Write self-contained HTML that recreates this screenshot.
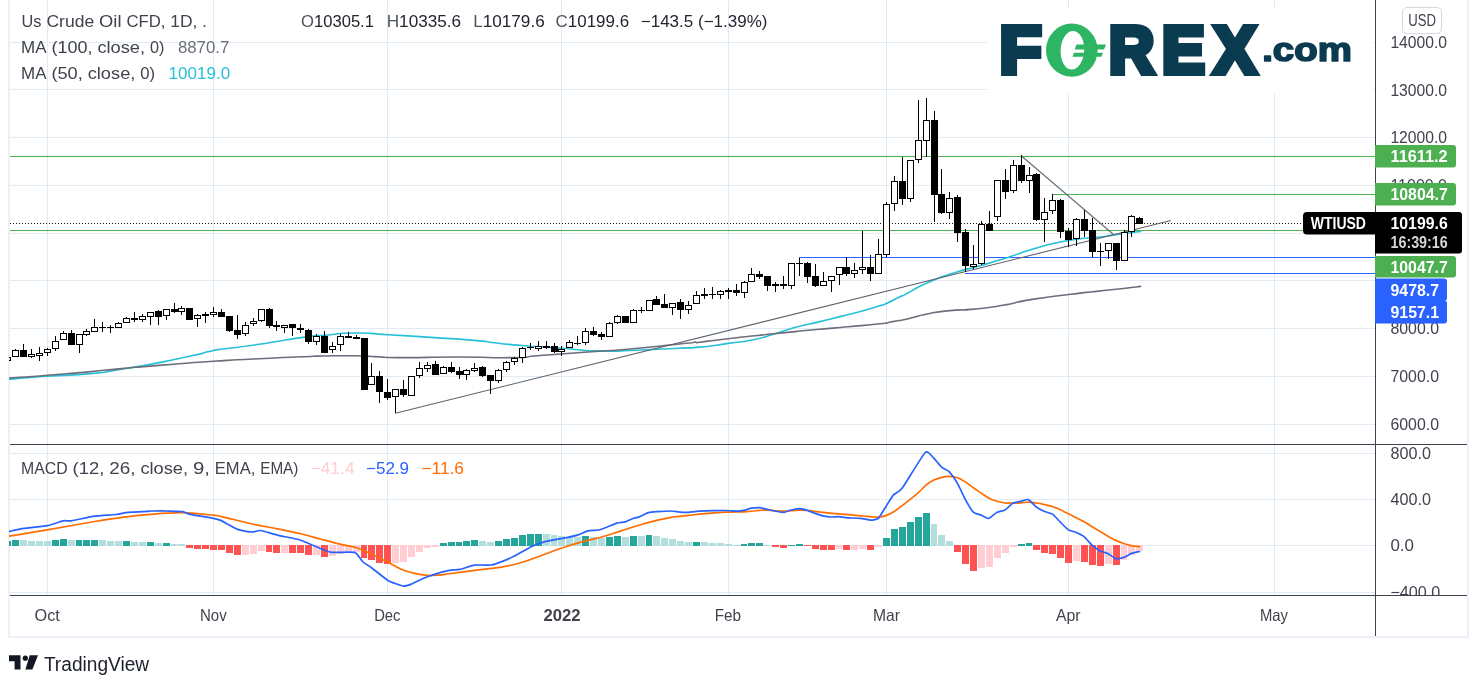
<!DOCTYPE html>
<html lang="en"><head><meta charset="utf-8"><title>Us Crude Oil CFD, 1D - TradingView</title>
<style>html,body{margin:0;padding:0;background:#fff;}body{width:1483px;height:690px;overflow:hidden;font-family:"Liberation Sans", "DejaVu Sans", sans-serif;}svg{display:block}</style>
</head><body>
<svg width="1483" height="690" viewBox="0 0 1483 690" font-family='"Liberation Sans", "DejaVu Sans", sans-serif'>
<rect width="1483" height="690" fill="#fff"/>
<rect x="8" y="0" width="2" height="637" fill="#eceff6" shape-rendering="crispEdges"/>
<g fill="#e1ebf3" shape-rendering="crispEdges">
<rect x="10" y="42" width="1365" height="1"/>
<rect x="10" y="89" width="1365" height="1"/>
<rect x="10" y="137" width="1365" height="1"/>
<rect x="10" y="185" width="1365" height="1"/>
<rect x="10" y="233" width="1365" height="1"/>
<rect x="10" y="280" width="1365" height="1"/>
<rect x="10" y="328" width="1365" height="1"/>
<rect x="10" y="376" width="1365" height="1"/>
<rect x="10" y="424" width="1365" height="1"/>
<rect x="10" y="453" width="1365" height="1"/>
<rect x="10" y="499" width="1365" height="1"/>
<rect x="10" y="545" width="1365" height="1"/>
<rect x="10" y="592" width="1365" height="1"/>
<rect x="47" y="0" width="1" height="595"/>
<rect x="213" y="0" width="1" height="595"/>
<rect x="387" y="0" width="1" height="595"/>
<rect x="561" y="0" width="1" height="595"/>
<rect x="728" y="0" width="1" height="595"/>
<rect x="886" y="0" width="1" height="595"/>
<rect x="1068" y="0" width="1" height="595"/>
<rect x="1274" y="0" width="1" height="595"/>
</g>
<clipPath id="cm"><rect x="9" y="0" width="1366" height="444"/></clipPath>
<clipPath id="cd"><rect x="9" y="445" width="1366" height="150"/></clipPath>
<g shape-rendering="crispEdges" clip-path="url(#cm)">
<rect x="10" y="156" width="1365" height="1" fill="#4caf50"/>
<rect x="1052" y="194" width="323" height="1" fill="#4caf50"/>
<rect x="10" y="230" width="1365" height="1" fill="#4caf50"/>
<rect x="799" y="257" width="576" height="1" fill="#2962ff"/>
<rect x="965" y="273" width="410" height="1" fill="#2962ff"/>
</g>
<line x1="10" y1="223.5" x2="1375" y2="223.5" stroke="#111" stroke-width="1" stroke-dasharray="1 2" shape-rendering="crispEdges"/>
<path d="M9.7 379.1 C22.3 378.1 20.4 378.0 47.5 376.2 C74.6 374.4 66.4 375.9 91.0 373.6 C115.6 371.3 97.8 373.0 121.4 369.2 C145.0 365.4 134.8 367.4 161.8 362.1 C188.8 356.8 185.0 357.3 202.3 353.4 C213.6 349.5 202.3 353.4 213.6 350.4 C232.0 347.4 227.1 348.9 257.4 344.5 C287.7 340.1 282.1 340.2 304.6 337.1 C324.9 334.0 308.3 336.6 324.9 335.2 C341.5 333.8 333.5 333.2 354.5 333.0 C375.5 332.8 362.3 333.2 387.8 334.7 C413.3 336.2 403.0 335.6 430.9 337.4 C458.8 339.2 448.9 338.2 471.4 340.1 C493.9 342.0 480.3 341.3 498.3 343.2 C516.3 345.1 504.2 344.1 525.3 345.8 C546.4 347.5 537.6 346.5 561.6 348.2 C585.6 349.9 572.0 350.2 597.4 350.9 C622.8 351.6 610.9 351.1 637.9 350.2 C664.9 349.3 657.6 349.2 678.3 348.2 C699.0 347.2 683.4 348.7 700.0 347.1 C716.6 345.5 710.9 345.8 728.2 343.4 C745.5 341.0 736.6 343.1 751.9 340.0 C767.2 336.9 759.4 338.4 774.2 334.1 C789.0 329.8 781.6 331.2 796.4 327.1 C811.2 323.0 803.9 325.5 818.7 321.9 C833.5 318.3 826.1 320.1 840.9 316.4 C855.7 312.7 850.8 314.2 863.2 310.8 C875.6 307.4 870.2 308.8 878.0 306.3 C885.8 303.8 879.2 306.6 886.5 303.4 C893.8 300.2 892.9 300.3 900.0 296.8 C907.1 293.3 900.0 297.6 907.7 293.0 C916.7 288.4 911.6 289.7 927.0 283.0 C942.4 276.3 935.9 278.7 953.9 272.9 C971.9 267.1 962.9 270.7 980.9 265.5 C998.9 260.3 989.9 263.0 1007.9 257.4 C1025.9 251.8 1014.7 254.2 1034.9 248.6 C1055.1 243.0 1046.9 244.3 1068.6 240.5 C1090.3 236.7 1084.8 239.0 1100.0 237.1 C1114.2 235.2 1100.7 236.8 1114.2 234.9 C1127.7 233.0 1131.7 232.6 1140.5 231.5" fill="none" stroke="#26c0d8" stroke-width="1.6" stroke-linejoin="round" stroke-linecap="round" clip-path="url(#cm)" />
<path d="M9.7 378.1 C22.3 377.1 20.4 377.4 47.5 375.2 C74.6 373.0 66.4 373.8 91.0 371.6 C115.6 369.4 97.8 370.8 121.4 368.6 C145.0 366.4 131.1 367.5 161.8 365.1 C192.5 362.7 183.0 363.3 213.4 361.3 C243.8 359.3 224.0 360.5 252.9 359.0 C281.8 357.5 276.0 357.8 300.0 356.8 C324.0 355.8 306.7 356.3 324.9 356.0 C343.1 355.7 337.8 355.6 354.5 355.8 C371.2 356.0 358.5 356.0 375.0 356.6 C391.5 357.2 376.3 357.5 404.0 357.6 C431.7 357.7 422.0 357.0 458.0 357.0 C494.0 357.0 484.7 358.1 512.0 357.6 C539.3 357.1 516.0 357.3 540.0 355.5 C564.0 353.7 551.3 354.7 584.0 352.3 C616.7 349.9 602.0 351.4 638.0 348.2 C674.0 345.0 671.3 344.8 692.0 342.8 C700.0 340.8 692.0 343.6 700.0 342.2 C712.1 340.8 703.5 341.5 728.2 338.7 C752.9 335.9 744.0 336.9 774.2 333.8 C804.4 330.7 794.0 331.6 818.7 329.3 C843.4 327.0 827.9 328.6 848.3 326.8 C868.7 325.0 865.2 325.5 880.0 323.8 C892.8 322.1 883.4 323.3 892.8 321.6 C902.2 319.9 896.8 321.2 908.3 318.7 C919.8 316.2 913.3 316.7 927.2 314.0 C941.1 311.3 934.2 312.2 949.9 310.6 C965.6 309.0 956.8 310.9 974.4 309.1 C992.0 307.3 983.8 308.5 1002.7 305.3 C1021.6 302.1 1009.0 303.2 1031.0 299.6 C1053.0 296.0 1040.5 297.9 1068.8 294.5 C1097.1 291.1 1092.1 292.0 1116.0 289.3 C1139.9 286.6 1132.4 287.4 1140.6 286.4" fill="none" stroke="#6c6f7b" stroke-width="1.6" stroke-linejoin="round" stroke-linecap="round" clip-path="url(#cm)" />
<line x1="395.4" y1="413.3" x2="1170.8" y2="220.5" stroke="#5f626d" stroke-width="1.1"/>
<line x1="1021.5" y1="156.1" x2="1114.4" y2="235.2" stroke="#6f727d" stroke-width="1.3"/>
<g shape-rendering="crispEdges" clip-path="url(#cm)">
<rect x="7" y="357" width="1" height="5" fill="#000"/>
<rect x="4" y="357" width="7" height="4" fill="#000"/>
<rect x="5" y="358" width="5" height="2" fill="#fff"/>
<rect x="15" y="349" width="1" height="8" fill="#000"/>
<rect x="12" y="350" width="7" height="7" fill="#000"/>
<rect x="13" y="351" width="5" height="5" fill="#fff"/>
<rect x="23" y="344" width="1" height="13" fill="#000"/>
<rect x="20" y="350" width="7" height="7" fill="#000"/>
<rect x="31" y="349" width="1" height="9" fill="#000"/>
<rect x="28" y="354" width="7" height="3" fill="#000"/>
<rect x="29" y="355" width="5" height="1" fill="#fff"/>
<rect x="39" y="347" width="1" height="14" fill="#000"/>
<rect x="36" y="353" width="7" height="3" fill="#000"/>
<rect x="37" y="354" width="5" height="1" fill="#fff"/>
<rect x="47" y="348" width="1" height="8" fill="#000"/>
<rect x="44" y="349" width="7" height="4" fill="#000"/>
<rect x="45" y="350" width="5" height="2" fill="#fff"/>
<rect x="55" y="336" width="1" height="15" fill="#000"/>
<rect x="52" y="341" width="7" height="8" fill="#000"/>
<rect x="53" y="342" width="5" height="6" fill="#fff"/>
<rect x="63" y="331" width="1" height="9" fill="#000"/>
<rect x="60" y="333" width="7" height="7" fill="#000"/>
<rect x="61" y="334" width="5" height="5" fill="#fff"/>
<rect x="71" y="330" width="1" height="15" fill="#000"/>
<rect x="68" y="333" width="7" height="12" fill="#000"/>
<rect x="79" y="334" width="1" height="19" fill="#000"/>
<rect x="76" y="334" width="7" height="11" fill="#000"/>
<rect x="77" y="335" width="5" height="9" fill="#fff"/>
<rect x="86" y="329" width="1" height="7" fill="#000"/>
<rect x="83" y="331" width="7" height="4" fill="#000"/>
<rect x="84" y="332" width="5" height="2" fill="#fff"/>
<rect x="94" y="319" width="1" height="13" fill="#000"/>
<rect x="91" y="327" width="7" height="5" fill="#000"/>
<rect x="92" y="328" width="5" height="3" fill="#fff"/>
<rect x="102" y="322" width="1" height="10" fill="#000"/>
<rect x="99" y="327" width="7" height="1" fill="#000"/>
<rect x="110" y="325" width="1" height="8" fill="#000"/>
<rect x="107" y="327" width="7" height="1" fill="#000"/>
<rect x="118" y="322" width="1" height="6" fill="#000"/>
<rect x="115" y="323" width="7" height="5" fill="#000"/>
<rect x="116" y="324" width="5" height="3" fill="#fff"/>
<rect x="126" y="317" width="1" height="6" fill="#000"/>
<rect x="123" y="318" width="7" height="5" fill="#000"/>
<rect x="124" y="319" width="5" height="3" fill="#fff"/>
<rect x="134" y="312" width="1" height="10" fill="#000"/>
<rect x="131" y="318" width="7" height="2" fill="#000"/>
<rect x="142" y="314" width="1" height="8" fill="#000"/>
<rect x="139" y="316" width="7" height="4" fill="#000"/>
<rect x="140" y="317" width="5" height="2" fill="#fff"/>
<rect x="150" y="312" width="1" height="13" fill="#000"/>
<rect x="147" y="312" width="7" height="5" fill="#000"/>
<rect x="148" y="313" width="5" height="3" fill="#fff"/>
<rect x="158" y="310" width="1" height="15" fill="#000"/>
<rect x="155" y="311" width="7" height="6" fill="#000"/>
<rect x="166" y="309" width="1" height="11" fill="#000"/>
<rect x="163" y="309" width="7" height="7" fill="#000"/>
<rect x="164" y="310" width="5" height="5" fill="#fff"/>
<rect x="174" y="303" width="1" height="10" fill="#000"/>
<rect x="171" y="309" width="7" height="3" fill="#000"/>
<rect x="181" y="306" width="1" height="9" fill="#000"/>
<rect x="178" y="308" width="7" height="4" fill="#000"/>
<rect x="179" y="309" width="5" height="2" fill="#fff"/>
<rect x="189" y="308" width="1" height="12" fill="#000"/>
<rect x="186" y="308" width="7" height="12" fill="#000"/>
<rect x="197" y="314" width="1" height="13" fill="#000"/>
<rect x="194" y="315" width="7" height="4" fill="#000"/>
<rect x="195" y="316" width="5" height="2" fill="#fff"/>
<rect x="205" y="312" width="1" height="11" fill="#000"/>
<rect x="202" y="314" width="7" height="2" fill="#000"/>
<rect x="213" y="307" width="1" height="10" fill="#000"/>
<rect x="210" y="312" width="7" height="3" fill="#000"/>
<rect x="211" y="313" width="5" height="1" fill="#fff"/>
<rect x="221" y="309" width="1" height="8" fill="#000"/>
<rect x="218" y="312" width="7" height="5" fill="#000"/>
<rect x="229" y="316" width="1" height="16" fill="#000"/>
<rect x="226" y="316" width="7" height="15" fill="#000"/>
<rect x="237" y="315" width="1" height="24" fill="#000"/>
<rect x="234" y="330" width="7" height="5" fill="#000"/>
<rect x="245" y="322" width="1" height="14" fill="#000"/>
<rect x="242" y="325" width="7" height="9" fill="#000"/>
<rect x="243" y="326" width="5" height="7" fill="#fff"/>
<rect x="253" y="318" width="1" height="8" fill="#000"/>
<rect x="250" y="321" width="7" height="3" fill="#000"/>
<rect x="251" y="322" width="5" height="1" fill="#fff"/>
<rect x="261" y="309" width="1" height="13" fill="#000"/>
<rect x="258" y="309" width="7" height="12" fill="#000"/>
<rect x="259" y="310" width="5" height="10" fill="#fff"/>
<rect x="269" y="308" width="1" height="20" fill="#000"/>
<rect x="266" y="309" width="7" height="17" fill="#000"/>
<rect x="276" y="321" width="1" height="10" fill="#000"/>
<rect x="273" y="325" width="7" height="2" fill="#000"/>
<rect x="284" y="325" width="1" height="8" fill="#000"/>
<rect x="281" y="325" width="7" height="3" fill="#000"/>
<rect x="282" y="326" width="5" height="1" fill="#fff"/>
<rect x="292" y="324" width="1" height="12" fill="#000"/>
<rect x="289" y="324" width="7" height="4" fill="#000"/>
<rect x="300" y="324" width="1" height="9" fill="#000"/>
<rect x="297" y="328" width="7" height="2" fill="#000"/>
<rect x="308" y="329" width="1" height="15" fill="#000"/>
<rect x="305" y="330" width="7" height="12" fill="#000"/>
<rect x="316" y="334" width="1" height="11" fill="#000"/>
<rect x="313" y="336" width="7" height="6" fill="#000"/>
<rect x="314" y="337" width="5" height="4" fill="#fff"/>
<rect x="324" y="331" width="1" height="22" fill="#000"/>
<rect x="321" y="336" width="7" height="17" fill="#000"/>
<rect x="332" y="342" width="1" height="11" fill="#000"/>
<rect x="329" y="346" width="7" height="4" fill="#000"/>
<rect x="330" y="347" width="5" height="2" fill="#fff"/>
<rect x="340" y="334" width="1" height="17" fill="#000"/>
<rect x="337" y="336" width="7" height="9" fill="#000"/>
<rect x="338" y="337" width="5" height="7" fill="#fff"/>
<rect x="348" y="332" width="1" height="6" fill="#000"/>
<rect x="345" y="336" width="7" height="2" fill="#000"/>
<rect x="356" y="335" width="1" height="4" fill="#000"/>
<rect x="353" y="337" width="7" height="2" fill="#000"/>
<rect x="364" y="338" width="1" height="52" fill="#000"/>
<rect x="361" y="338" width="7" height="52" fill="#000"/>
<rect x="371" y="363" width="1" height="22" fill="#000"/>
<rect x="368" y="376" width="7" height="9" fill="#000"/>
<rect x="369" y="377" width="5" height="7" fill="#fff"/>
<rect x="379" y="371" width="1" height="32" fill="#000"/>
<rect x="376" y="376" width="7" height="16" fill="#000"/>
<rect x="387" y="379" width="1" height="21" fill="#000"/>
<rect x="384" y="392" width="7" height="6" fill="#000"/>
<rect x="395" y="389" width="1" height="24" fill="#000"/>
<rect x="392" y="389" width="7" height="8" fill="#000"/>
<rect x="393" y="390" width="5" height="6" fill="#fff"/>
<rect x="403" y="380" width="1" height="17" fill="#000"/>
<rect x="400" y="389" width="7" height="6" fill="#000"/>
<rect x="411" y="376" width="1" height="20" fill="#000"/>
<rect x="408" y="376" width="7" height="20" fill="#000"/>
<rect x="409" y="377" width="5" height="18" fill="#fff"/>
<rect x="419" y="362" width="1" height="16" fill="#000"/>
<rect x="416" y="368" width="7" height="8" fill="#000"/>
<rect x="417" y="369" width="5" height="6" fill="#fff"/>
<rect x="427" y="362" width="1" height="10" fill="#000"/>
<rect x="424" y="365" width="7" height="4" fill="#000"/>
<rect x="425" y="366" width="5" height="2" fill="#fff"/>
<rect x="435" y="361" width="1" height="14" fill="#000"/>
<rect x="432" y="364" width="7" height="11" fill="#000"/>
<rect x="443" y="366" width="1" height="8" fill="#000"/>
<rect x="440" y="367" width="7" height="7" fill="#000"/>
<rect x="441" y="368" width="5" height="5" fill="#fff"/>
<rect x="451" y="362" width="1" height="11" fill="#000"/>
<rect x="448" y="367" width="7" height="5" fill="#000"/>
<rect x="459" y="367" width="1" height="12" fill="#000"/>
<rect x="456" y="371" width="7" height="4" fill="#000"/>
<rect x="466" y="369" width="1" height="11" fill="#000"/>
<rect x="463" y="370" width="7" height="5" fill="#000"/>
<rect x="464" y="371" width="5" height="3" fill="#fff"/>
<rect x="474" y="363" width="1" height="9" fill="#000"/>
<rect x="471" y="368" width="7" height="3" fill="#000"/>
<rect x="472" y="369" width="5" height="1" fill="#fff"/>
<rect x="482" y="366" width="1" height="11" fill="#000"/>
<rect x="479" y="367" width="7" height="9" fill="#000"/>
<rect x="490" y="375" width="1" height="19" fill="#000"/>
<rect x="487" y="375" width="7" height="6" fill="#000"/>
<rect x="498" y="369" width="1" height="14" fill="#000"/>
<rect x="495" y="370" width="7" height="11" fill="#000"/>
<rect x="496" y="371" width="5" height="9" fill="#fff"/>
<rect x="506" y="361" width="1" height="11" fill="#000"/>
<rect x="503" y="362" width="7" height="8" fill="#000"/>
<rect x="504" y="363" width="5" height="6" fill="#fff"/>
<rect x="514" y="357" width="1" height="8" fill="#000"/>
<rect x="511" y="358" width="7" height="4" fill="#000"/>
<rect x="512" y="359" width="5" height="2" fill="#fff"/>
<rect x="522" y="347" width="1" height="16" fill="#000"/>
<rect x="519" y="348" width="7" height="10" fill="#000"/>
<rect x="520" y="349" width="5" height="8" fill="#fff"/>
<rect x="530" y="343" width="1" height="7" fill="#000"/>
<rect x="527" y="347" width="7" height="1" fill="#000"/>
<rect x="538" y="341" width="1" height="10" fill="#000"/>
<rect x="535" y="346" width="7" height="3" fill="#000"/>
<rect x="536" y="347" width="5" height="1" fill="#fff"/>
<rect x="546" y="341" width="1" height="8" fill="#000"/>
<rect x="543" y="346" width="7" height="2" fill="#000"/>
<rect x="554" y="343" width="1" height="10" fill="#000"/>
<rect x="551" y="346" width="7" height="6" fill="#000"/>
<rect x="561" y="346" width="1" height="10" fill="#000"/>
<rect x="558" y="349" width="7" height="3" fill="#000"/>
<rect x="559" y="350" width="5" height="1" fill="#fff"/>
<rect x="569" y="340" width="1" height="8" fill="#000"/>
<rect x="566" y="342" width="7" height="6" fill="#000"/>
<rect x="567" y="343" width="5" height="4" fill="#fff"/>
<rect x="577" y="336" width="1" height="9" fill="#000"/>
<rect x="574" y="343" width="7" height="1" fill="#000"/>
<rect x="585" y="328" width="1" height="17" fill="#000"/>
<rect x="582" y="331" width="7" height="12" fill="#000"/>
<rect x="583" y="332" width="5" height="10" fill="#fff"/>
<rect x="593" y="327" width="1" height="9" fill="#000"/>
<rect x="590" y="331" width="7" height="4" fill="#000"/>
<rect x="601" y="332" width="1" height="8" fill="#000"/>
<rect x="598" y="334" width="7" height="3" fill="#000"/>
<rect x="609" y="322" width="1" height="15" fill="#000"/>
<rect x="606" y="323" width="7" height="14" fill="#000"/>
<rect x="607" y="324" width="5" height="12" fill="#fff"/>
<rect x="617" y="315" width="1" height="9" fill="#000"/>
<rect x="614" y="316" width="7" height="7" fill="#000"/>
<rect x="615" y="317" width="5" height="5" fill="#fff"/>
<rect x="625" y="316" width="1" height="7" fill="#000"/>
<rect x="622" y="316" width="7" height="7" fill="#000"/>
<rect x="633" y="309" width="1" height="14" fill="#000"/>
<rect x="630" y="310" width="7" height="13" fill="#000"/>
<rect x="631" y="311" width="5" height="11" fill="#fff"/>
<rect x="641" y="307" width="1" height="6" fill="#000"/>
<rect x="638" y="310" width="7" height="1" fill="#000"/>
<rect x="649" y="300" width="1" height="11" fill="#000"/>
<rect x="646" y="300" width="7" height="11" fill="#000"/>
<rect x="647" y="301" width="5" height="9" fill="#fff"/>
<rect x="656" y="296" width="1" height="9" fill="#000"/>
<rect x="653" y="299" width="7" height="6" fill="#000"/>
<rect x="664" y="294" width="1" height="14" fill="#000"/>
<rect x="661" y="304" width="7" height="4" fill="#000"/>
<rect x="672" y="303" width="1" height="12" fill="#000"/>
<rect x="669" y="303" width="7" height="5" fill="#000"/>
<rect x="670" y="304" width="5" height="3" fill="#fff"/>
<rect x="680" y="299" width="1" height="20" fill="#000"/>
<rect x="677" y="302" width="7" height="8" fill="#000"/>
<rect x="688" y="301" width="1" height="13" fill="#000"/>
<rect x="685" y="305" width="7" height="5" fill="#000"/>
<rect x="686" y="306" width="5" height="3" fill="#fff"/>
<rect x="696" y="291" width="1" height="13" fill="#000"/>
<rect x="693" y="295" width="7" height="9" fill="#000"/>
<rect x="694" y="296" width="5" height="7" fill="#fff"/>
<rect x="704" y="288" width="1" height="11" fill="#000"/>
<rect x="701" y="294" width="7" height="2" fill="#000"/>
<rect x="712" y="287" width="1" height="12" fill="#000"/>
<rect x="709" y="294" width="7" height="1" fill="#000"/>
<rect x="720" y="290" width="1" height="9" fill="#000"/>
<rect x="717" y="291" width="7" height="4" fill="#000"/>
<rect x="718" y="292" width="5" height="2" fill="#fff"/>
<rect x="728" y="288" width="1" height="11" fill="#000"/>
<rect x="725" y="290" width="7" height="2" fill="#000"/>
<rect x="736" y="284" width="1" height="12" fill="#000"/>
<rect x="733" y="290" width="7" height="3" fill="#000"/>
<rect x="744" y="281" width="1" height="17" fill="#000"/>
<rect x="741" y="282" width="7" height="11" fill="#000"/>
<rect x="742" y="283" width="5" height="9" fill="#fff"/>
<rect x="751" y="268" width="1" height="14" fill="#000"/>
<rect x="748" y="274" width="7" height="8" fill="#000"/>
<rect x="749" y="275" width="5" height="6" fill="#fff"/>
<rect x="759" y="271" width="1" height="8" fill="#000"/>
<rect x="756" y="274" width="7" height="3" fill="#000"/>
<rect x="767" y="276" width="1" height="15" fill="#000"/>
<rect x="764" y="276" width="7" height="10" fill="#000"/>
<rect x="775" y="282" width="1" height="10" fill="#000"/>
<rect x="772" y="284" width="7" height="2" fill="#000"/>
<rect x="783" y="276" width="1" height="13" fill="#000"/>
<rect x="780" y="284" width="7" height="2" fill="#000"/>
<rect x="791" y="263" width="1" height="26" fill="#000"/>
<rect x="788" y="263" width="7" height="23" fill="#000"/>
<rect x="789" y="264" width="5" height="21" fill="#fff"/>
<rect x="799" y="258" width="1" height="18" fill="#000"/>
<rect x="796" y="263" width="7" height="1" fill="#000"/>
<rect x="807" y="262" width="1" height="21" fill="#000"/>
<rect x="804" y="263" width="7" height="14" fill="#000"/>
<rect x="815" y="264" width="1" height="23" fill="#000"/>
<rect x="812" y="276" width="7" height="10" fill="#000"/>
<rect x="823" y="272" width="1" height="14" fill="#000"/>
<rect x="820" y="281" width="7" height="5" fill="#000"/>
<rect x="821" y="282" width="5" height="3" fill="#fff"/>
<rect x="831" y="276" width="1" height="16" fill="#000"/>
<rect x="828" y="276" width="7" height="5" fill="#000"/>
<rect x="829" y="277" width="5" height="3" fill="#fff"/>
<rect x="839" y="267" width="1" height="18" fill="#000"/>
<rect x="836" y="267" width="7" height="8" fill="#000"/>
<rect x="837" y="268" width="5" height="6" fill="#fff"/>
<rect x="846" y="257" width="1" height="19" fill="#000"/>
<rect x="843" y="267" width="7" height="7" fill="#000"/>
<rect x="854" y="263" width="1" height="15" fill="#000"/>
<rect x="851" y="270" width="7" height="4" fill="#000"/>
<rect x="852" y="271" width="5" height="2" fill="#fff"/>
<rect x="862" y="231" width="1" height="43" fill="#000"/>
<rect x="859" y="267" width="7" height="3" fill="#000"/>
<rect x="860" y="268" width="5" height="1" fill="#fff"/>
<rect x="870" y="255" width="1" height="26" fill="#000"/>
<rect x="867" y="267" width="7" height="7" fill="#000"/>
<rect x="878" y="239" width="1" height="35" fill="#000"/>
<rect x="875" y="254" width="7" height="20" fill="#000"/>
<rect x="876" y="255" width="5" height="18" fill="#fff"/>
<rect x="886" y="202" width="1" height="55" fill="#000"/>
<rect x="883" y="204" width="7" height="51" fill="#000"/>
<rect x="884" y="205" width="5" height="49" fill="#fff"/>
<rect x="894" y="176" width="1" height="35" fill="#000"/>
<rect x="891" y="181" width="7" height="23" fill="#000"/>
<rect x="892" y="182" width="5" height="21" fill="#fff"/>
<rect x="902" y="157" width="1" height="48" fill="#000"/>
<rect x="899" y="181" width="7" height="18" fill="#000"/>
<rect x="910" y="160" width="1" height="42" fill="#000"/>
<rect x="907" y="160" width="7" height="39" fill="#000"/>
<rect x="908" y="161" width="5" height="37" fill="#fff"/>
<rect x="918" y="100" width="1" height="63" fill="#000"/>
<rect x="915" y="140" width="7" height="20" fill="#000"/>
<rect x="916" y="141" width="5" height="18" fill="#fff"/>
<rect x="926" y="98" width="1" height="59" fill="#000"/>
<rect x="923" y="120" width="7" height="21" fill="#000"/>
<rect x="924" y="121" width="5" height="19" fill="#fff"/>
<rect x="934" y="111" width="1" height="111" fill="#000"/>
<rect x="931" y="120" width="7" height="75" fill="#000"/>
<rect x="941" y="169" width="1" height="45" fill="#000"/>
<rect x="938" y="194" width="7" height="19" fill="#000"/>
<rect x="949" y="192" width="1" height="27" fill="#000"/>
<rect x="946" y="198" width="7" height="15" fill="#000"/>
<rect x="947" y="199" width="5" height="13" fill="#fff"/>
<rect x="957" y="195" width="1" height="47" fill="#000"/>
<rect x="954" y="197" width="7" height="36" fill="#000"/>
<rect x="965" y="229" width="1" height="43" fill="#000"/>
<rect x="962" y="232" width="7" height="34" fill="#000"/>
<rect x="973" y="245" width="1" height="24" fill="#000"/>
<rect x="970" y="264" width="7" height="3" fill="#000"/>
<rect x="971" y="265" width="5" height="1" fill="#fff"/>
<rect x="981" y="221" width="1" height="44" fill="#000"/>
<rect x="978" y="224" width="7" height="40" fill="#000"/>
<rect x="979" y="225" width="5" height="38" fill="#fff"/>
<rect x="989" y="211" width="1" height="20" fill="#000"/>
<rect x="986" y="224" width="7" height="7" fill="#000"/>
<rect x="997" y="180" width="1" height="41" fill="#000"/>
<rect x="994" y="180" width="7" height="37" fill="#000"/>
<rect x="995" y="181" width="5" height="35" fill="#fff"/>
<rect x="1005" y="169" width="1" height="30" fill="#000"/>
<rect x="1002" y="180" width="7" height="12" fill="#000"/>
<rect x="1013" y="160" width="1" height="33" fill="#000"/>
<rect x="1010" y="165" width="7" height="26" fill="#000"/>
<rect x="1011" y="166" width="5" height="24" fill="#fff"/>
<rect x="1021" y="155" width="1" height="28" fill="#000"/>
<rect x="1018" y="165" width="7" height="16" fill="#000"/>
<rect x="1029" y="167" width="1" height="26" fill="#000"/>
<rect x="1026" y="175" width="7" height="6" fill="#000"/>
<rect x="1027" y="176" width="5" height="4" fill="#fff"/>
<rect x="1036" y="173" width="1" height="48" fill="#000"/>
<rect x="1033" y="174" width="7" height="46" fill="#000"/>
<rect x="1044" y="198" width="1" height="44" fill="#000"/>
<rect x="1041" y="212" width="7" height="8" fill="#000"/>
<rect x="1042" y="213" width="5" height="6" fill="#fff"/>
<rect x="1052" y="194" width="1" height="20" fill="#000"/>
<rect x="1049" y="200" width="7" height="11" fill="#000"/>
<rect x="1050" y="201" width="5" height="9" fill="#fff"/>
<rect x="1060" y="199" width="1" height="39" fill="#000"/>
<rect x="1057" y="200" width="7" height="32" fill="#000"/>
<rect x="1068" y="228" width="1" height="19" fill="#000"/>
<rect x="1065" y="231" width="7" height="9" fill="#000"/>
<rect x="1076" y="218" width="1" height="28" fill="#000"/>
<rect x="1073" y="219" width="7" height="20" fill="#000"/>
<rect x="1074" y="220" width="5" height="18" fill="#fff"/>
<rect x="1084" y="210" width="1" height="27" fill="#000"/>
<rect x="1081" y="219" width="7" height="12" fill="#000"/>
<rect x="1092" y="218" width="1" height="39" fill="#000"/>
<rect x="1089" y="230" width="7" height="22" fill="#000"/>
<rect x="1100" y="243" width="1" height="23" fill="#000"/>
<rect x="1097" y="251" width="7" height="1" fill="#000"/>
<rect x="1108" y="243" width="1" height="16" fill="#000"/>
<rect x="1105" y="243" width="7" height="8" fill="#000"/>
<rect x="1106" y="244" width="5" height="6" fill="#fff"/>
<rect x="1116" y="243" width="1" height="27" fill="#000"/>
<rect x="1113" y="243" width="7" height="18" fill="#000"/>
<rect x="1124" y="230" width="1" height="31" fill="#000"/>
<rect x="1121" y="232" width="7" height="29" fill="#000"/>
<rect x="1122" y="233" width="5" height="27" fill="#fff"/>
<rect x="1131" y="215" width="1" height="22" fill="#000"/>
<rect x="1128" y="216" width="7" height="16" fill="#000"/>
<rect x="1129" y="217" width="5" height="14" fill="#fff"/>
<rect x="1139" y="217" width="1" height="7" fill="#000"/>
<rect x="1136" y="218" width="7" height="6" fill="#000"/>
</g>
<g clip-path="url(#cd)">
<rect x="4" y="541" width="7" height="5" fill="#26a69a" shape-rendering="crispEdges"/>
<rect x="12" y="540" width="7" height="6" fill="#26a69a" shape-rendering="crispEdges"/>
<rect x="20" y="540" width="7" height="6" fill="#b2dfdb" shape-rendering="crispEdges"/>
<rect x="28" y="541" width="7" height="5" fill="#b2dfdb" shape-rendering="crispEdges"/>
<rect x="36" y="541" width="7" height="5" fill="#b2dfdb" shape-rendering="crispEdges"/>
<rect x="44" y="541" width="7" height="5" fill="#b2dfdb" shape-rendering="crispEdges"/>
<rect x="52" y="540" width="7" height="6" fill="#26a69a" shape-rendering="crispEdges"/>
<rect x="60" y="539" width="7" height="7" fill="#26a69a" shape-rendering="crispEdges"/>
<rect x="68" y="540" width="7" height="6" fill="#b2dfdb" shape-rendering="crispEdges"/>
<rect x="76" y="540" width="6" height="6" fill="#26a69a" shape-rendering="crispEdges"/>
<rect x="83" y="540" width="7" height="6" fill="#26a69a" shape-rendering="crispEdges"/>
<rect x="91" y="540" width="7" height="6" fill="#26a69a" shape-rendering="crispEdges"/>
<rect x="99" y="540" width="7" height="6" fill="#b2dfdb" shape-rendering="crispEdges"/>
<rect x="107" y="541" width="7" height="5" fill="#b2dfdb" shape-rendering="crispEdges"/>
<rect x="115" y="541" width="7" height="5" fill="#b2dfdb" shape-rendering="crispEdges"/>
<rect x="123" y="541" width="7" height="5" fill="#26a69a" shape-rendering="crispEdges"/>
<rect x="131" y="542" width="7" height="4" fill="#b2dfdb" shape-rendering="crispEdges"/>
<rect x="139" y="542" width="7" height="4" fill="#b2dfdb" shape-rendering="crispEdges"/>
<rect x="147" y="542" width="7" height="4" fill="#26a69a" shape-rendering="crispEdges"/>
<rect x="155" y="543" width="7" height="3" fill="#b2dfdb" shape-rendering="crispEdges"/>
<rect x="163" y="543" width="7" height="3" fill="#26a69a" shape-rendering="crispEdges"/>
<rect x="171" y="544" width="6" height="2" fill="#b2dfdb" shape-rendering="crispEdges"/>
<rect x="178" y="544" width="7" height="2" fill="#b2dfdb" shape-rendering="crispEdges"/>
<rect x="186" y="545" width="7" height="3" fill="#ff5252" shape-rendering="crispEdges"/>
<rect x="194" y="545" width="7" height="4" fill="#ff5252" shape-rendering="crispEdges"/>
<rect x="202" y="545" width="7" height="4" fill="#ff5252" shape-rendering="crispEdges"/>
<rect x="210" y="545" width="7" height="5" fill="#ff5252" shape-rendering="crispEdges"/>
<rect x="218" y="545" width="7" height="5" fill="#ff5252" shape-rendering="crispEdges"/>
<rect x="226" y="545" width="7" height="8" fill="#ff5252" shape-rendering="crispEdges"/>
<rect x="234" y="545" width="7" height="10" fill="#ff5252" shape-rendering="crispEdges"/>
<rect x="242" y="545" width="7" height="10" fill="#ffcdd2" shape-rendering="crispEdges"/>
<rect x="250" y="545" width="7" height="9" fill="#ffcdd2" shape-rendering="crispEdges"/>
<rect x="258" y="545" width="7" height="6" fill="#ffcdd2" shape-rendering="crispEdges"/>
<rect x="266" y="545" width="6" height="7" fill="#ff5252" shape-rendering="crispEdges"/>
<rect x="273" y="545" width="7" height="8" fill="#ff5252" shape-rendering="crispEdges"/>
<rect x="281" y="545" width="7" height="8" fill="#ffcdd2" shape-rendering="crispEdges"/>
<rect x="289" y="545" width="7" height="8" fill="#ff5252" shape-rendering="crispEdges"/>
<rect x="297" y="545" width="7" height="8" fill="#ff5252" shape-rendering="crispEdges"/>
<rect x="305" y="545" width="7" height="10" fill="#ff5252" shape-rendering="crispEdges"/>
<rect x="313" y="545" width="7" height="10" fill="#ffcdd2" shape-rendering="crispEdges"/>
<rect x="321" y="545" width="7" height="12" fill="#ff5252" shape-rendering="crispEdges"/>
<rect x="329" y="545" width="7" height="11" fill="#ffcdd2" shape-rendering="crispEdges"/>
<rect x="337" y="545" width="7" height="9" fill="#ffcdd2" shape-rendering="crispEdges"/>
<rect x="345" y="545" width="7" height="8" fill="#ffcdd2" shape-rendering="crispEdges"/>
<rect x="353" y="545" width="7" height="7" fill="#ffcdd2" shape-rendering="crispEdges"/>
<rect x="361" y="545" width="6" height="13" fill="#ff5252" shape-rendering="crispEdges"/>
<rect x="368" y="545" width="7" height="15" fill="#ff5252" shape-rendering="crispEdges"/>
<rect x="376" y="545" width="7" height="18" fill="#ff5252" shape-rendering="crispEdges"/>
<rect x="384" y="545" width="7" height="19" fill="#ff5252" shape-rendering="crispEdges"/>
<rect x="392" y="545" width="7" height="18" fill="#ffcdd2" shape-rendering="crispEdges"/>
<rect x="400" y="545" width="7" height="17" fill="#ffcdd2" shape-rendering="crispEdges"/>
<rect x="408" y="545" width="7" height="12" fill="#ffcdd2" shape-rendering="crispEdges"/>
<rect x="416" y="545" width="7" height="7" fill="#ffcdd2" shape-rendering="crispEdges"/>
<rect x="424" y="545" width="7" height="3" fill="#ffcdd2" shape-rendering="crispEdges"/>
<rect x="432" y="545" width="7" height="2" fill="#ffcdd2" shape-rendering="crispEdges"/>
<rect x="440" y="543" width="7" height="3" fill="#26a69a" shape-rendering="crispEdges"/>
<rect x="448" y="542" width="7" height="4" fill="#26a69a" shape-rendering="crispEdges"/>
<rect x="456" y="542" width="6" height="4" fill="#26a69a" shape-rendering="crispEdges"/>
<rect x="463" y="541" width="7" height="5" fill="#26a69a" shape-rendering="crispEdges"/>
<rect x="471" y="540" width="7" height="6" fill="#26a69a" shape-rendering="crispEdges"/>
<rect x="479" y="541" width="7" height="5" fill="#b2dfdb" shape-rendering="crispEdges"/>
<rect x="487" y="542" width="7" height="4" fill="#b2dfdb" shape-rendering="crispEdges"/>
<rect x="495" y="541" width="7" height="5" fill="#26a69a" shape-rendering="crispEdges"/>
<rect x="503" y="539" width="7" height="7" fill="#26a69a" shape-rendering="crispEdges"/>
<rect x="511" y="538" width="7" height="8" fill="#26a69a" shape-rendering="crispEdges"/>
<rect x="519" y="535" width="7" height="11" fill="#26a69a" shape-rendering="crispEdges"/>
<rect x="527" y="534" width="7" height="12" fill="#26a69a" shape-rendering="crispEdges"/>
<rect x="535" y="534" width="7" height="12" fill="#26a69a" shape-rendering="crispEdges"/>
<rect x="543" y="534" width="7" height="12" fill="#b2dfdb" shape-rendering="crispEdges"/>
<rect x="551" y="535" width="6" height="11" fill="#b2dfdb" shape-rendering="crispEdges"/>
<rect x="558" y="536" width="7" height="10" fill="#b2dfdb" shape-rendering="crispEdges"/>
<rect x="566" y="537" width="7" height="9" fill="#b2dfdb" shape-rendering="crispEdges"/>
<rect x="574" y="537" width="7" height="9" fill="#b2dfdb" shape-rendering="crispEdges"/>
<rect x="582" y="536" width="7" height="10" fill="#26a69a" shape-rendering="crispEdges"/>
<rect x="590" y="537" width="7" height="9" fill="#b2dfdb" shape-rendering="crispEdges"/>
<rect x="598" y="538" width="7" height="8" fill="#b2dfdb" shape-rendering="crispEdges"/>
<rect x="606" y="537" width="7" height="9" fill="#26a69a" shape-rendering="crispEdges"/>
<rect x="614" y="536" width="7" height="10" fill="#26a69a" shape-rendering="crispEdges"/>
<rect x="622" y="537" width="7" height="9" fill="#b2dfdb" shape-rendering="crispEdges"/>
<rect x="630" y="536" width="7" height="10" fill="#26a69a" shape-rendering="crispEdges"/>
<rect x="638" y="536" width="7" height="10" fill="#b2dfdb" shape-rendering="crispEdges"/>
<rect x="646" y="535" width="6" height="11" fill="#26a69a" shape-rendering="crispEdges"/>
<rect x="653" y="536" width="7" height="10" fill="#b2dfdb" shape-rendering="crispEdges"/>
<rect x="661" y="538" width="7" height="8" fill="#b2dfdb" shape-rendering="crispEdges"/>
<rect x="669" y="539" width="7" height="7" fill="#b2dfdb" shape-rendering="crispEdges"/>
<rect x="677" y="541" width="7" height="5" fill="#b2dfdb" shape-rendering="crispEdges"/>
<rect x="685" y="542" width="7" height="4" fill="#b2dfdb" shape-rendering="crispEdges"/>
<rect x="693" y="542" width="7" height="4" fill="#26a69a" shape-rendering="crispEdges"/>
<rect x="701" y="542" width="7" height="4" fill="#b2dfdb" shape-rendering="crispEdges"/>
<rect x="709" y="543" width="7" height="3" fill="#b2dfdb" shape-rendering="crispEdges"/>
<rect x="717" y="543" width="7" height="3" fill="#b2dfdb" shape-rendering="crispEdges"/>
<rect x="725" y="544" width="7" height="2" fill="#b2dfdb" shape-rendering="crispEdges"/>
<rect x="733" y="545" width="7" height="1" fill="#b2dfdb" shape-rendering="crispEdges"/>
<rect x="741" y="544" width="6" height="2" fill="#26a69a" shape-rendering="crispEdges"/>
<rect x="748" y="543" width="7" height="3" fill="#26a69a" shape-rendering="crispEdges"/>
<rect x="756" y="543" width="7" height="3" fill="#26a69a" shape-rendering="crispEdges"/>
<rect x="764" y="545" width="7" height="1" fill="#b2dfdb" shape-rendering="crispEdges"/>
<rect x="772" y="545" width="7" height="2" fill="#ff5252" shape-rendering="crispEdges"/>
<rect x="780" y="545" width="7" height="3" fill="#ff5252" shape-rendering="crispEdges"/>
<rect x="788" y="545" width="7" height="1" fill="#26a69a" shape-rendering="crispEdges"/>
<rect x="796" y="544" width="7" height="2" fill="#26a69a" shape-rendering="crispEdges"/>
<rect x="804" y="545" width="7" height="1" fill="#ff5252" shape-rendering="crispEdges"/>
<rect x="812" y="545" width="7" height="4" fill="#ff5252" shape-rendering="crispEdges"/>
<rect x="820" y="545" width="7" height="5" fill="#ff5252" shape-rendering="crispEdges"/>
<rect x="828" y="545" width="7" height="5" fill="#ff5252" shape-rendering="crispEdges"/>
<rect x="836" y="545" width="6" height="4" fill="#ffcdd2" shape-rendering="crispEdges"/>
<rect x="843" y="545" width="7" height="5" fill="#ff5252" shape-rendering="crispEdges"/>
<rect x="851" y="545" width="7" height="5" fill="#ffcdd2" shape-rendering="crispEdges"/>
<rect x="859" y="545" width="7" height="4" fill="#ffcdd2" shape-rendering="crispEdges"/>
<rect x="867" y="545" width="7" height="5" fill="#ff5252" shape-rendering="crispEdges"/>
<rect x="875" y="545" width="7" height="2" fill="#ffcdd2" shape-rendering="crispEdges"/>
<rect x="883" y="538" width="7" height="8" fill="#26a69a" shape-rendering="crispEdges"/>
<rect x="891" y="529" width="7" height="17" fill="#26a69a" shape-rendering="crispEdges"/>
<rect x="899" y="527" width="7" height="19" fill="#26a69a" shape-rendering="crispEdges"/>
<rect x="907" y="522" width="7" height="24" fill="#26a69a" shape-rendering="crispEdges"/>
<rect x="915" y="517" width="7" height="29" fill="#26a69a" shape-rendering="crispEdges"/>
<rect x="923" y="513" width="7" height="33" fill="#26a69a" shape-rendering="crispEdges"/>
<rect x="931" y="524" width="6" height="22" fill="#b2dfdb" shape-rendering="crispEdges"/>
<rect x="938" y="535" width="7" height="11" fill="#b2dfdb" shape-rendering="crispEdges"/>
<rect x="946" y="541" width="7" height="5" fill="#b2dfdb" shape-rendering="crispEdges"/>
<rect x="954" y="545" width="7" height="7" fill="#ff5252" shape-rendering="crispEdges"/>
<rect x="962" y="545" width="7" height="19" fill="#ff5252" shape-rendering="crispEdges"/>
<rect x="970" y="545" width="7" height="26" fill="#ff5252" shape-rendering="crispEdges"/>
<rect x="978" y="545" width="7" height="23" fill="#ffcdd2" shape-rendering="crispEdges"/>
<rect x="986" y="545" width="7" height="22" fill="#ffcdd2" shape-rendering="crispEdges"/>
<rect x="994" y="545" width="7" height="13" fill="#ffcdd2" shape-rendering="crispEdges"/>
<rect x="1002" y="545" width="7" height="8" fill="#ffcdd2" shape-rendering="crispEdges"/>
<rect x="1010" y="545" width="7" height="2" fill="#ffcdd2" shape-rendering="crispEdges"/>
<rect x="1018" y="544" width="7" height="2" fill="#26a69a" shape-rendering="crispEdges"/>
<rect x="1026" y="543" width="6" height="3" fill="#26a69a" shape-rendering="crispEdges"/>
<rect x="1033" y="545" width="7" height="5" fill="#ff5252" shape-rendering="crispEdges"/>
<rect x="1041" y="545" width="7" height="8" fill="#ff5252" shape-rendering="crispEdges"/>
<rect x="1049" y="545" width="7" height="9" fill="#ff5252" shape-rendering="crispEdges"/>
<rect x="1057" y="545" width="7" height="13" fill="#ff5252" shape-rendering="crispEdges"/>
<rect x="1065" y="545" width="7" height="18" fill="#ff5252" shape-rendering="crispEdges"/>
<rect x="1073" y="545" width="7" height="16" fill="#ffcdd2" shape-rendering="crispEdges"/>
<rect x="1081" y="545" width="7" height="17" fill="#ff5252" shape-rendering="crispEdges"/>
<rect x="1089" y="545" width="7" height="20" fill="#ff5252" shape-rendering="crispEdges"/>
<rect x="1097" y="545" width="7" height="21" fill="#ff5252" shape-rendering="crispEdges"/>
<rect x="1105" y="545" width="7" height="19" fill="#ffcdd2" shape-rendering="crispEdges"/>
<rect x="1113" y="545" width="7" height="20" fill="#ff5252" shape-rendering="crispEdges"/>
<rect x="1121" y="545" width="6" height="15" fill="#ffcdd2" shape-rendering="crispEdges"/>
<rect x="1128" y="545" width="7" height="10" fill="#ffcdd2" shape-rendering="crispEdges"/>
<rect x="1136" y="545" width="7" height="6" fill="#ffcdd2" shape-rendering="crispEdges"/>
</g>
<path d="M9.2 536.2 C15.5 535.2 33.1 532.4 47.3 529.9 C61.5 527.4 81.5 523.7 94.6 521.5 C107.7 519.3 117.3 517.9 126.1 516.8 C134.8 515.7 138.0 515.4 147.1 514.7 C156.2 514.0 169.7 512.5 180.7 512.6 C191.7 512.7 206.3 514.5 213.3 515.2 C220.3 515.9 216.3 515.3 222.8 516.8 C229.3 518.3 243.1 522.0 252.2 524.0 C261.3 526.0 269.4 527.2 277.4 528.8 C285.4 530.4 292.7 531.8 300.0 533.5 C307.3 535.2 314.0 537.4 321.0 539.3 C328.0 541.1 336.1 543.2 342.0 544.6 C347.9 546.0 351.8 546.1 356.7 547.7 C361.6 549.3 366.2 551.5 371.5 554.0 C376.8 556.5 382.7 559.6 388.3 562.4 C393.9 565.2 400.2 568.9 405.1 570.8 C410.0 572.7 413.5 573.2 417.7 574.0 C421.9 574.8 425.4 575.5 430.3 575.5 C435.2 575.5 439.1 575.0 447.1 574.0 C455.2 573.0 469.8 570.9 478.6 569.8 C487.4 568.7 493.7 568.2 499.7 567.3 C505.7 566.4 509.1 565.8 514.4 564.5 C519.6 563.2 523.2 562.1 531.2 559.3 C539.2 556.5 553.2 550.9 562.7 547.7 C572.2 544.6 581.7 542.1 587.9 540.4 C594.1 538.7 594.5 539.1 600.0 537.5 C605.5 535.9 614.0 533.1 621.0 530.9 C628.0 528.7 636.0 526.0 642.0 524.2 C648.0 522.5 651.8 521.5 656.7 520.4 C661.6 519.2 666.2 518.1 671.5 517.3 C676.8 516.5 682.7 516.0 688.3 515.4 C693.9 514.8 698.8 514.2 705.1 513.7 C711.4 513.2 719.1 512.6 726.1 512.2 C733.1 511.9 741.5 511.9 747.1 511.6 C752.7 511.3 756.2 510.6 759.7 510.3 C763.2 510.1 764.2 510.0 768.1 510.1 C772.0 510.2 777.8 511.2 782.9 511.2 C788.0 511.2 794.6 510.2 798.6 510.1 C802.6 510.0 803.0 509.9 807.0 510.3 C811.0 510.7 816.0 511.7 822.8 512.4 C829.6 513.1 841.4 514.1 848.0 514.7 C854.6 515.3 858.5 515.6 862.7 516.0 C866.9 516.4 870.4 516.8 873.2 517.0 C876.0 517.2 877.4 517.2 879.5 517.0 C881.6 516.8 883.3 516.5 885.8 515.6 C888.2 514.7 891.5 513.0 894.2 511.4 C896.9 509.8 898.2 508.8 902.1 505.7 C906.0 502.6 913.8 496.5 917.8 493.1 C921.8 489.7 923.1 487.5 925.8 485.3 C928.5 483.1 931.2 481.4 933.8 480.1 C936.4 478.8 939.0 477.9 941.6 477.3 C944.2 476.7 946.9 476.2 949.6 476.3 C952.3 476.4 955.0 476.8 957.6 477.7 C960.2 478.6 962.7 480.2 965.3 481.9 C967.9 483.6 970.6 485.9 973.3 487.8 C976.0 489.7 978.7 491.4 981.3 493.1 C983.9 494.9 986.5 496.9 989.1 498.3 C991.7 499.7 994.4 500.5 997.1 501.3 C999.8 502.1 1002.5 502.7 1005.1 503.0 C1007.7 503.3 1010.2 503.2 1012.8 503.2 C1015.4 503.2 1018.1 503.0 1020.8 502.8 C1023.5 502.6 1026.2 502.1 1028.8 502.1 C1031.4 502.1 1034.0 502.6 1036.6 503.0 C1039.2 503.4 1041.9 504.0 1044.6 504.6 C1047.3 505.2 1050.0 505.6 1052.6 506.5 C1055.2 507.4 1057.7 508.5 1060.3 509.7 C1062.9 510.9 1065.6 512.4 1068.3 513.7 C1071.0 515.0 1073.7 516.4 1076.3 517.7 C1078.9 519.0 1081.5 520.2 1084.1 521.7 C1086.7 523.2 1089.4 525.1 1092.1 526.7 C1094.8 528.3 1097.5 529.9 1100.1 531.5 C1102.7 533.1 1105.2 534.7 1107.8 536.2 C1110.4 537.7 1113.1 539.2 1115.8 540.4 C1118.5 541.6 1121.2 542.6 1123.8 543.5 C1126.4 544.4 1129.0 545.1 1131.6 545.6 C1134.2 546.1 1138.3 546.5 1139.6 546.7" fill="none" stroke="#ff6d00" stroke-width="1.7" stroke-linejoin="round" stroke-linecap="round" clip-path="url(#cd)" />
<path d="M9.2 531.5 C10.2 531.3 17.8 529.3 21.0 528.8 C24.2 528.3 43.8 526.4 47.3 525.7 C50.8 525.0 61.0 521.2 63.0 520.8 C65.0 520.4 68.9 521.2 71.5 520.8 C74.1 520.4 90.9 516.7 94.6 516.2 C98.3 515.7 113.0 514.8 115.6 514.5 C118.2 514.2 123.5 512.9 126.1 512.6 C128.7 512.3 145.0 511.5 147.1 511.4 C149.2 511.3 149.7 511.0 151.3 511.0 C152.9 511.0 163.4 510.9 166.0 511.0 C168.6 511.1 181.0 511.3 182.9 511.6 C184.8 511.9 186.7 513.5 189.2 514.1 C191.7 514.7 210.7 517.8 213.3 518.3 C215.9 518.8 218.7 519.5 220.7 520.4 C222.7 521.3 234.9 528.4 237.5 529.4 C240.1 530.4 250.3 531.9 252.2 532.0 C254.1 532.1 258.5 530.2 260.6 530.5 C262.7 530.8 274.1 534.3 277.4 535.1 C280.7 535.9 297.2 539.2 300.0 540.0 C302.8 540.8 308.8 543.5 310.5 544.2 C312.2 544.9 319.2 548.1 321.0 548.8 C322.8 549.5 328.7 552.1 331.5 552.4 C334.3 552.7 352.0 551.6 354.6 552.4 C357.2 553.2 361.6 560.7 363.0 562.0 C364.4 563.3 369.4 566.1 371.5 567.7 C373.6 569.3 385.7 579.2 388.3 580.7 C390.9 582.2 401.1 585.7 403.0 586.0 C404.9 586.3 409.5 584.8 411.4 584.1 C413.3 583.4 423.1 578.3 426.1 577.2 C429.1 576.1 444.3 571.4 447.1 570.8 C449.9 570.1 457.4 569.9 459.7 569.4 C462.0 568.9 471.8 565.6 474.4 565.2 C477.0 564.8 489.2 565.2 491.3 565.0 C493.4 564.8 497.8 563.1 499.7 562.4 C501.6 561.7 511.8 557.4 514.4 556.1 C517.0 554.8 528.6 547.9 531.2 546.7 C533.8 545.5 543.3 542.1 545.9 541.4 C548.5 540.7 560.1 538.8 562.7 538.3 C565.3 537.8 575.3 535.7 577.4 535.1 C579.5 534.5 586.0 531.4 587.9 530.9 C589.8 530.4 597.6 530.4 600.0 529.7 C602.4 529.1 614.7 523.8 616.8 523.1 C618.9 522.5 623.8 522.3 625.2 521.9 C626.6 521.5 632.4 518.7 633.6 518.3 C634.8 517.9 638.7 517.1 639.9 516.6 C641.1 516.1 646.9 513.0 648.3 512.6 C649.7 512.2 654.8 511.7 656.7 511.6 C658.6 511.5 669.6 510.9 671.5 511.0 C673.4 511.1 678.5 512.1 679.9 512.2 C681.3 512.3 686.7 512.5 688.3 512.4 C689.9 512.3 696.7 511.3 698.8 511.2 C700.9 511.1 711.2 510.8 713.5 510.7 C715.8 510.6 724.2 510.5 726.1 510.5 C728.0 510.5 735.0 511.2 736.6 511.2 C738.2 511.2 743.8 510.4 745.0 510.1 C746.2 509.9 750.1 508.4 751.3 508.2 C752.5 508.0 758.3 507.5 759.7 507.6 C761.1 507.7 766.2 509.1 768.1 509.5 C770.0 509.9 781.1 512.3 782.9 512.4 C784.7 512.5 787.9 510.8 789.2 510.5 C790.5 510.2 797.2 508.7 798.6 508.6 C800.0 508.6 804.7 509.5 806.0 509.9 C807.3 510.3 813.0 512.6 814.4 513.1 C815.8 513.6 821.4 515.5 822.8 515.8 C824.2 516.1 829.9 516.9 831.2 517.0 C832.5 517.1 837.1 516.5 838.5 516.6 C839.9 516.7 846.2 517.8 848.0 517.9 C849.8 518.0 858.7 518.1 860.6 518.3 C862.5 518.5 869.6 520.2 871.1 520.2 C872.6 520.2 877.3 519.4 878.5 518.3 C879.7 517.2 884.5 508.7 885.8 506.7 C887.1 504.7 892.3 496.1 893.7 494.6 C895.1 493.1 899.5 491.8 902.1 488.3 C904.7 484.8 922.6 455.0 925.2 452.5 C927.8 450.0 932.2 456.8 933.6 458.0 C935.0 459.2 940.3 466.0 941.6 467.2 C942.9 468.4 948.3 470.7 949.6 472.1 C950.9 473.5 956.3 481.3 957.6 483.6 C958.9 485.9 964.0 497.0 965.3 499.4 C966.6 501.8 972.0 510.9 973.3 512.2 C974.6 513.5 980.0 514.7 981.3 515.2 C982.6 515.7 987.4 518.8 988.7 518.5 C990.0 518.2 995.7 512.9 997.1 512.2 C998.5 511.5 1003.8 510.6 1005.1 509.9 C1006.4 509.1 1011.5 503.9 1012.8 503.2 C1014.1 502.5 1019.5 501.6 1020.8 501.3 C1022.1 501.0 1027.1 499.1 1028.4 499.6 C1029.7 500.1 1035.2 506.2 1036.6 507.2 C1037.9 508.2 1043.3 511.0 1044.6 511.6 C1045.9 512.2 1051.3 513.2 1052.6 514.1 C1053.9 515.0 1059.0 520.8 1060.3 522.1 C1061.6 523.4 1067.0 529.0 1068.3 529.9 C1069.6 530.8 1075.0 531.8 1076.3 532.4 C1077.6 533.0 1082.8 535.5 1084.1 536.6 C1085.4 537.7 1090.8 544.0 1092.1 545.2 C1093.4 546.4 1098.8 550.2 1100.1 550.9 C1101.4 551.6 1106.5 552.8 1107.8 553.4 C1109.1 554.0 1114.5 558.4 1115.8 558.7 C1117.1 559.0 1122.5 557.8 1123.8 557.4 C1125.1 557.0 1130.3 553.9 1131.6 553.4 C1132.9 552.9 1138.9 551.7 1139.6 551.5" fill="none" stroke="#2962ff" stroke-width="1.7" stroke-linejoin="round" stroke-linecap="round" clip-path="url(#cd)" />
<rect x="987" y="8" width="386" height="86" fill="#fff"/>
<g shape-rendering="crispEdges">
<rect x="1467" y="0" width="2" height="637" fill="#eceff6"/>
<rect x="8" y="636" width="1461" height="2" fill="#eceff6"/>
<rect x="1375" y="0" width="1" height="636" fill="#3f424d"/>
<rect x="10" y="444" width="1457" height="1" fill="#3f424d"/>
<rect x="10" y="595" width="1457" height="1" fill="#3f424d"/>
</g>
<text x="1390.4" y="47.8" font-size="16.5" fill="#40434e" font-weight="normal" text-anchor="start" textLength="56.6" lengthAdjust="spacingAndGlyphs" >14000.0</text>
<text x="1390.4" y="95.5" font-size="16.5" fill="#40434e" font-weight="normal" text-anchor="start" textLength="56.6" lengthAdjust="spacingAndGlyphs" >13000.0</text>
<text x="1390.4" y="143.3" font-size="16.5" fill="#40434e" font-weight="normal" text-anchor="start" textLength="56.6" lengthAdjust="spacingAndGlyphs" >12000.0</text>
<text x="1390.4" y="191.1" font-size="16.5" fill="#40434e" font-weight="normal" text-anchor="start" textLength="56.6" lengthAdjust="spacingAndGlyphs" >11000.0</text>
<text x="1390.4" y="334.3" font-size="16.5" fill="#40434e" font-weight="normal" text-anchor="start" textLength="48.6" lengthAdjust="spacingAndGlyphs" >8000.0</text>
<text x="1390.4" y="382.1" font-size="16.5" fill="#40434e" font-weight="normal" text-anchor="start" textLength="48.6" lengthAdjust="spacingAndGlyphs" >7000.0</text>
<text x="1390.4" y="429.8" font-size="16.5" fill="#40434e" font-weight="normal" text-anchor="start" textLength="48.6" lengthAdjust="spacingAndGlyphs" >6000.0</text>
<text x="1390.4" y="458.8" font-size="16.5" fill="#40434e" font-weight="normal" text-anchor="start" textLength="40.5" lengthAdjust="spacingAndGlyphs" >800.0</text>
<text x="1390.4" y="504.8" font-size="16.5" fill="#40434e" font-weight="normal" text-anchor="start" textLength="40.5" lengthAdjust="spacingAndGlyphs" >400.0</text>
<text x="1390.4" y="551.3" font-size="16.5" fill="#40434e" font-weight="normal" text-anchor="start" textLength="23.5" lengthAdjust="spacingAndGlyphs" >0.0</text>
<clipPath id="c4"><rect x="1376" y="445" width="90" height="150"/></clipPath>
<text x="1390.4" y="598.3" font-size="16.5" fill="#40434e" font-weight="normal" text-anchor="start" textLength="50.0" lengthAdjust="spacingAndGlyphs" clip-path="url(#c4)">−400.0</text>
<path d="M1375 145h78a3 3 0 0 1 3 3v16.5a3 3 0 0 1 -3 3h-78z" fill="#4caf50"/>
<text x="1390.5" y="162.2" font-size="16.5" fill="#fff" font-weight="bold" text-anchor="start" textLength="57.2" lengthAdjust="spacingAndGlyphs" >11611.2</text>
<path d="M1375 183h78a3 3 0 0 1 3 3v16.5a3 3 0 0 1 -3 3h-78z" fill="#4caf50"/>
<text x="1390.5" y="200.2" font-size="16.5" fill="#fff" font-weight="bold" text-anchor="start" textLength="57.2" lengthAdjust="spacingAndGlyphs" >10804.7</text>
<path d="M1375 256h78a3 3 0 0 1 3 3v15.5a3 3 0 0 1 -3 3h-78z" fill="#4caf50"/>
<text x="1390.5" y="272.7" font-size="16.5" fill="#fff" font-weight="bold" text-anchor="start" textLength="57.2" lengthAdjust="spacingAndGlyphs" >10047.7</text>
<path d="M1375 278.5h69a3 3 0 0 1 3 3v16.5a3 3 0 0 1 -3 3h-69z" fill="#2962ff"/>
<text x="1390.5" y="295.5" font-size="16.5" fill="#fff" font-weight="bold" text-anchor="start" textLength="48.5" lengthAdjust="spacingAndGlyphs" >9478.7</text>
<path d="M1375 300.5h69a3 3 0 0 1 3 3v17a3 3 0 0 1 -3 3h-69z" fill="#2962ff"/>
<text x="1390.5" y="318.3" font-size="16.5" fill="#fff" font-weight="bold" text-anchor="start" textLength="48.5" lengthAdjust="spacingAndGlyphs" >9157.1</text>
<path d="M1307 212H1459a3 3 0 0 1 3 3V250.5a3 3 0 0 1 -3 3H1375V234.6H1307a4 4 0 0 1 -4 -4V216a4 4 0 0 1 4 -4z" fill="#000"/>
<text x="1310.7" y="229.3" font-size="16.5" fill="#fff" font-weight="bold" text-anchor="start" textLength="55.3" lengthAdjust="spacingAndGlyphs" >WTIUSD</text>
<text x="1390.5" y="229.3" font-size="16.5" fill="#fff" font-weight="bold" text-anchor="start" textLength="57.2" lengthAdjust="spacingAndGlyphs" >10199.6</text>
<text x="1390.5" y="248.0" font-size="16.5" fill="#d6d6d6" font-weight="bold" text-anchor="start" textLength="57.2" lengthAdjust="spacingAndGlyphs" >16:39:16</text>
<rect x="1402.5" y="7.5" width="39" height="26" rx="4.5" fill="#fff" stroke="#d5d8e2" stroke-width="1"/>
<text x="1408.3" y="25.7" font-size="16" fill="#40434e" font-weight="normal" text-anchor="start" textLength="27.7" lengthAdjust="spacingAndGlyphs" >USD</text>
<text x="21.6" y="26.5" font-size="16.5" fill="#40434e" font-weight="normal" text-anchor="start" textLength="19.9" lengthAdjust="spacingAndGlyphs" >Us</text>
<text x="46.4" y="26.5" font-size="16.5" fill="#40434e" font-weight="normal" text-anchor="start" textLength="47.8" lengthAdjust="spacingAndGlyphs" >Crude</text>
<text x="99.1" y="26.5" font-size="16.5" fill="#40434e" font-weight="normal" text-anchor="start" textLength="22.4" lengthAdjust="spacingAndGlyphs" >Oil</text>
<text x="126.4" y="26.5" font-size="16.5" fill="#40434e" font-weight="normal" text-anchor="start" textLength="39.0" lengthAdjust="spacingAndGlyphs" >CFD,</text>
<text x="170.3" y="26.5" font-size="16.5" fill="#40434e" font-weight="normal" text-anchor="start" textLength="27.1" lengthAdjust="spacingAndGlyphs" >1D,</text>
<text x="202.3" y="26.5" font-size="16.5" fill="#40434e" font-weight="normal" text-anchor="start" >.</text>
<text x="301" y="26.5" font-size="16.5" textLength="73" lengthAdjust="spacingAndGlyphs"><tspan fill="#50535e">O</tspan><tspan fill="#23262f">10305.1</tspan></text>
<text x="386.7" y="26.5" font-size="16.5" textLength="74.5" lengthAdjust="spacingAndGlyphs"><tspan fill="#50535e">H</tspan><tspan fill="#23262f">10335.6</tspan></text>
<text x="473.2" y="26.5" font-size="16.5" textLength="71.5" lengthAdjust="spacingAndGlyphs"><tspan fill="#50535e">L</tspan><tspan fill="#23262f">10179.6</tspan></text>
<text x="555.6" y="26.5" font-size="16.5" textLength="73.5" lengthAdjust="spacingAndGlyphs"><tspan fill="#50535e">C</tspan><tspan fill="#23262f">10199.6</tspan></text>
<text x="640.8" y="26.5" font-size="16.5" fill="#23262f" font-weight="normal" text-anchor="start" textLength="126.6" lengthAdjust="spacingAndGlyphs" >−143.5 (−1.39%)</text>
<text x="21.1" y="53.0" font-size="16.5" fill="#40434e" font-weight="normal" text-anchor="start" textLength="25.4" lengthAdjust="spacingAndGlyphs" >MA</text>
<text x="51.4" y="53.0" font-size="16.5" fill="#40434e" font-weight="normal" text-anchor="start" textLength="41.1" lengthAdjust="spacingAndGlyphs" >(100,</text>
<text x="97.4" y="53.0" font-size="16.5" fill="#40434e" font-weight="normal" text-anchor="start" textLength="47.7" lengthAdjust="spacingAndGlyphs" >close,</text>
<text x="150.0" y="53.0" font-size="16.5" fill="#40434e" font-weight="normal" text-anchor="start" textLength="14.4" lengthAdjust="spacingAndGlyphs" >0)</text>
<text x="177.9" y="53.0" font-size="16.5" fill="#6c6f7b" font-weight="normal" text-anchor="start" textLength="51.4" lengthAdjust="spacingAndGlyphs" >8870.7</text>
<text x="21.1" y="78.5" font-size="16.5" fill="#40434e" font-weight="normal" text-anchor="start" textLength="25.4" lengthAdjust="spacingAndGlyphs" >MA</text>
<text x="51.4" y="78.5" font-size="16.5" fill="#40434e" font-weight="normal" text-anchor="start" textLength="31.4" lengthAdjust="spacingAndGlyphs" >(50,</text>
<text x="87.7" y="78.5" font-size="16.5" fill="#40434e" font-weight="normal" text-anchor="start" textLength="47.7" lengthAdjust="spacingAndGlyphs" >close,</text>
<text x="140.3" y="78.5" font-size="16.5" fill="#40434e" font-weight="normal" text-anchor="start" textLength="14.8" lengthAdjust="spacingAndGlyphs" >0)</text>
<text x="168.6" y="78.5" font-size="16.5" fill="#26c0d8" font-weight="normal" text-anchor="start" textLength="61.6" lengthAdjust="spacingAndGlyphs" >10019.0</text>
<text x="21.0" y="473.5" font-size="16.5" fill="#40434e" font-weight="normal" text-anchor="start" textLength="46.6" lengthAdjust="spacingAndGlyphs" >MACD</text>
<text x="72.5" y="473.5" font-size="16.5" fill="#40434e" font-weight="normal" text-anchor="start" textLength="31.9" lengthAdjust="spacingAndGlyphs" >(12,</text>
<text x="109.3" y="473.5" font-size="16.5" fill="#40434e" font-weight="normal" text-anchor="start" textLength="26.2" lengthAdjust="spacingAndGlyphs" >26,</text>
<text x="140.4" y="473.5" font-size="16.5" fill="#40434e" font-weight="normal" text-anchor="start" textLength="47.6" lengthAdjust="spacingAndGlyphs" >close,</text>
<text x="192.9" y="473.5" font-size="16.5" fill="#40434e" font-weight="normal" text-anchor="start" textLength="17.0" lengthAdjust="spacingAndGlyphs" >9,</text>
<text x="214.8" y="473.5" font-size="16.5" fill="#40434e" font-weight="normal" text-anchor="start" textLength="40.5" lengthAdjust="spacingAndGlyphs" >EMA,</text>
<text x="260.2" y="473.5" font-size="16.5" fill="#40434e" font-weight="normal" text-anchor="start" textLength="38.2" lengthAdjust="spacingAndGlyphs" >EMA)</text>
<text x="310.5" y="473.5" font-size="16.5" fill="#ffcdd2" font-weight="normal" text-anchor="start" textLength="44.1" lengthAdjust="spacingAndGlyphs" >−41.4</text>
<text x="366.0" y="473.5" font-size="16.5" fill="#2962ff" font-weight="normal" text-anchor="start" textLength="43.0" lengthAdjust="spacingAndGlyphs" >−52.9</text>
<text x="421.4" y="473.5" font-size="16.5" fill="#ff6d00" font-weight="normal" text-anchor="start" textLength="42.6" lengthAdjust="spacingAndGlyphs" >−11.6</text>
<text x="34.6" y="620.7" font-size="16.5" fill="#40434e" font-weight="normal" text-anchor="start" textLength="25.3" lengthAdjust="spacingAndGlyphs" >Oct</text>
<text x="200.0" y="620.7" font-size="16.5" fill="#40434e" font-weight="normal" text-anchor="start" textLength="26.7" lengthAdjust="spacingAndGlyphs" >Nov</text>
<text x="374.2" y="620.7" font-size="16.5" fill="#40434e" font-weight="normal" text-anchor="start" textLength="26.3" lengthAdjust="spacingAndGlyphs" >Dec</text>
<text x="543.5" y="620.7" font-size="16.5" fill="#40434e" font-weight="bold" text-anchor="start" textLength="37.1" lengthAdjust="spacingAndGlyphs" >2022</text>
<text x="714.8" y="620.7" font-size="16.5" fill="#40434e" font-weight="normal" text-anchor="start" textLength="26.3" lengthAdjust="spacingAndGlyphs" >Feb</text>
<text x="872.9" y="620.7" font-size="16.5" fill="#40434e" font-weight="normal" text-anchor="start" textLength="27.0" lengthAdjust="spacingAndGlyphs" >Mar</text>
<text x="1056.0" y="620.7" font-size="16.5" fill="#40434e" font-weight="normal" text-anchor="start" textLength="24.6" lengthAdjust="spacingAndGlyphs" >Apr</text>
<text x="1260.0" y="620.7" font-size="16.5" fill="#40434e" font-weight="normal" text-anchor="start" textLength="28.0" lengthAdjust="spacingAndGlyphs" >May</text>
<g fill="#131722"><path d="M9 655.2h11.5v14.4h-5.9v-8.4h-5.6z"/><circle cx="25.3" cy="658.2" r="2.6"/><path d="M29.7 655.2H38L32.4 669.6H25.4z"/></g>
<text x="43.9" y="670.9" font-size="19.5" fill="#1c202b" font-weight="normal" text-anchor="start" textLength="105.3" lengthAdjust="spacingAndGlyphs" >TradingView</text>
<text transform="translate(999.48 72.70) scale(0.6899 0.6613)" font-size="100" font-weight="bold" fill="#0b3b50" stroke="#0b3b50" stroke-width="6.0" stroke-linejoin="miter" vector-effect="non-scaling-stroke">F</text>
<text transform="translate(1108.92 72.70) scale(0.6254 0.6613)" font-size="100" font-weight="bold" fill="#0b3b50" stroke="#0b3b50" stroke-width="6.0" stroke-linejoin="miter" vector-effect="non-scaling-stroke">R</text>
<text transform="translate(1161.91 72.70) scale(0.6417 0.6613)" font-size="100" font-weight="bold" fill="#0b3b50" stroke="#0b3b50" stroke-width="6.0" stroke-linejoin="miter" vector-effect="non-scaling-stroke">E</text>
<text transform="translate(1213.64 72.70) scale(0.6344 0.6613)" font-size="100" font-weight="bold" fill="#0b3b50" stroke="#0b3b50" stroke-width="6.0" stroke-linejoin="miter" vector-effect="non-scaling-stroke">X</text>
<g><ellipse cx="1071.8" cy="50.2" rx="25.8" ry="26.6" fill="#2db563"/>
<ellipse cx="1072.4" cy="50.2" rx="11.8" ry="19.3" fill="#fff" transform="rotate(3 1072.4 50.2)"/>
<path d="M1076.5 44.4H1106L1104 49.5H1074.6z M1074 52.7H1103L1101.4 56.8H1072.5z" fill="#2db563"/>
</g>
<text transform="translate(1262.19 60.80) scale(0.3843 0.3409)" font-size="100" font-weight="bold" fill="#0b3b50" stroke="#0b3b50" stroke-width="1.8" stroke-linejoin="round" vector-effect="non-scaling-stroke">.com</text>
</svg>
</body></html>
